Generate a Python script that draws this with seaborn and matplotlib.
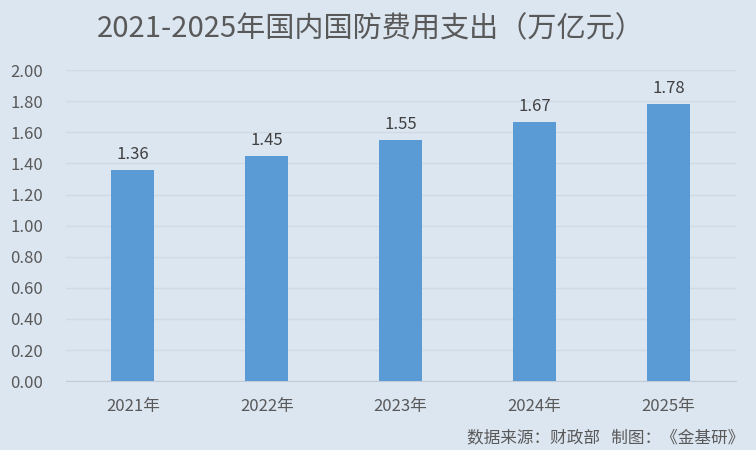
import matplotlib
matplotlib.use('Agg')
import matplotlib.pyplot as plt
import seaborn as sns
import pandas as pd

years = ['2021年', '2022年', '2023年', '2024年', '2025年']
spending = [1.36, 1.45, 1.55, 1.67, 1.78]
yticks = [0.0, 0.2, 0.4, 0.6, 0.8, 1.0, 1.2, 1.4, 1.6, 1.8, 2.0]

bg = '#dce6f1'
bar_color = '#5b9bd5'
text_color = '#595959'

sns.set_style('white')
plt.rcParams['font.family'] = ['Noto Sans CJK SC', 'DejaVu Sans']

df = pd.DataFrame({'year': years, 'value': spending})

fig = plt.figure(figsize=(7.56, 4.5), dpi=100, facecolor=bg)
ax = fig.add_axes([0.087, 0.153, 0.886, 0.691])
ax.set_facecolor(bg)

sns.barplot(data=df, x='year', y='value', color=bar_color, width=0.32,
            saturation=1, linewidth=0, ax=ax, zorder=3)

for i, v in enumerate(spending):
    ax.text(i, v + 0.045, f'{v:.2f}', ha='center', va='bottom',
            fontsize=12, color='#404040')

ax.set_ylim(0, 2.0)
ax.set_yticks(yticks)
ax.set_yticklabels([f'{t:.2f}' for t in yticks])
ax.yaxis.grid(True, color='#d0dae5', linewidth=1, zorder=0)
ax.set_axisbelow(True)
ax.set_xlabel('')
ax.set_ylabel('')
for s in ['top', 'right', 'left']:
    ax.spines[s].set_visible(False)
ax.spines['bottom'].set_color('#c3ccd6')
ax.tick_params(axis='x', length=0, labelsize=12, colors=text_color, pad=12)
ax.tick_params(axis='y', length=0, labelsize=12, colors=text_color, pad=40)
for lbl in ax.get_yticklabels():
    lbl.set_horizontalalignment('left')

fig.text(0.49, 0.935, '2021-2025年国内国防费用支出（万亿元）', ha='center', va='center',
         fontsize=21, color=text_color)
fig.text(0.985, 0.028, '数据来源：财政部   制图：《金基研》', ha='right', va='center',
         fontsize=12, color=text_color)

fig.savefig('out.png', dpi=100, facecolor=bg)
